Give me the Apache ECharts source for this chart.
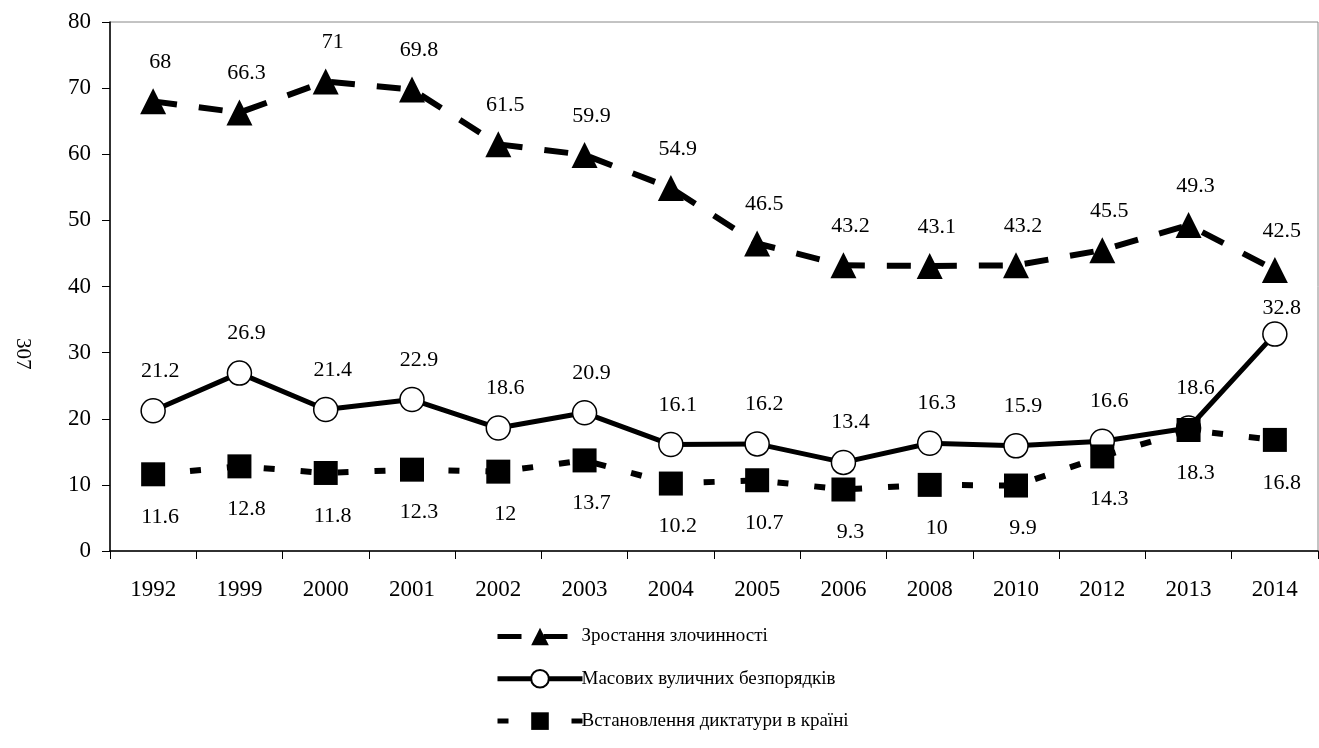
<!DOCTYPE html>
<html>
<head>
<meta charset="utf-8">
<script src="https://cdn.jsdelivr.net/npm/echarts@6/dist/echarts.min.js"></script>
<style>
  html, body { margin: 0; padding: 0; background: #fff; }
  #main { width: 1319px; height: 748px; }
</style>
</head>
<body>
<div id="main"></div>
<script>
// years on the x axis
const years = ['1992', '1999', '2000', '2001', '2002', '2003', '2004', '2005', '2006', '2008', '2010', '2012', '2013', '2014']
// series values
const crime = [68, 66.3, 71, 69.8, 61.5, 59.9, 54.9, 46.5, 43.2, 43.1, 43.2, 45.5, 49.3, 42.5]
const riots = [21.2, 26.9, 21.4, 22.9, 18.6, 20.9, 16.1, 16.2, 13.4, 16.3, 15.9, 16.6, 18.6, 32.8]
const dictat = [11.6, 12.8, 11.8, 12.3, 12, 13.7, 10.2, 10.7, 9.3, 10, 9.9, 14.3, 18.3, 16.8]
const names = ['Зростання злочинності', 'Масових вуличних безпорядків', 'Встановлення диктатури в країні']

const font = 'Liberation Serif, Times New Roman, serif'
let myChart = echarts.init(document.getElementById('main'))

const lbl = function (pos, dist) {
  return {
    show: true,
    position: pos,
    distance: dist,
    offset: [7, 0],
    color: '#000',
    fontFamily: font,
    fontSize: 22
  }
}

// last point of the riots line has its label tucked closer (triangle sits above it)
const riotsData = riots.map(function (v, i) {
  if (i === riots.length - 1) {
    return { value: v, label: { distance: 2 } }
  }
  return v
})

myChart.setOption({
  animation: false,
  textStyle: { fontFamily: font },
  grid: {
    left: 110, top: 22, right: 1, bottom: 197,
    show: true, borderColor: '#888', borderWidth: 1
  },
  graphic: [{
    type: 'text',
    left: 12,
    top: 338,
    rotation: -Math.PI / 2,
    style: { text: '307', fontFamily: font, fontSize: 21, fill: '#000' }
  }],
  legend: {
    orient: 'vertical',
    left: 490,
    top: 622,
    itemWidth: 85,
    itemHeight: 22,
    itemGap: 23,
    lineStyle: { width: 5 },
    textStyle: { fontFamily: font, fontSize: 19, color: '#000', padding: [0, 0, 0, -6] },
    data: names
  },
  xAxis: {
    type: 'category',
    data: years,
    axisLine: { lineStyle: { color: '#000', width: 1.5 } },
    axisTick: { show: true, length: 8, lineStyle: { color: '#000' } },
    axisLabel: { color: '#000', fontFamily: font, fontSize: 23, margin: 27 },
    splitLine: { show: false }
  },
  yAxis: {
    type: 'value',
    min: 0,
    max: 80,
    interval: 10,
    axisLine: { show: true, lineStyle: { color: '#000', width: 1.5 } },
    axisTick: { show: true, length: 8, lineStyle: { color: '#000' } },
    axisLabel: { color: '#000', fontFamily: font, fontSize: 23, margin: 19 },
    splitLine: { show: false }
  },
  series: [
    {
      name: names[0],
      type: 'line',
      data: crime,
      symbol: 'triangle',
      symbolSize: 26,
      itemStyle: { color: '#000' },
      lineStyle: { color: '#000', width: 6, type: [24, 22] },
      label: lbl('top', 15),
      z: 3
    },
    {
      name: names[1],
      type: 'line',
      data: riotsData,
      symbol: 'circle',
      symbolSize: 24,
      itemStyle: { color: '#fff', borderColor: '#000', borderWidth: 1.5 },
      lineStyle: { color: '#000', width: 5 },
      label: lbl('top', 16),
      z: 2
    },
    {
      name: names[2],
      type: 'line',
      data: dictat,
      symbol: 'rect',
      symbolSize: 24,
      itemStyle: { color: '#000' },
      lineStyle: { color: '#000', width: 6, type: [11, 26] },
      label: lbl('bottom', 20),
      z: 4
    }
  ]
})
</script>
</body>
</html>
